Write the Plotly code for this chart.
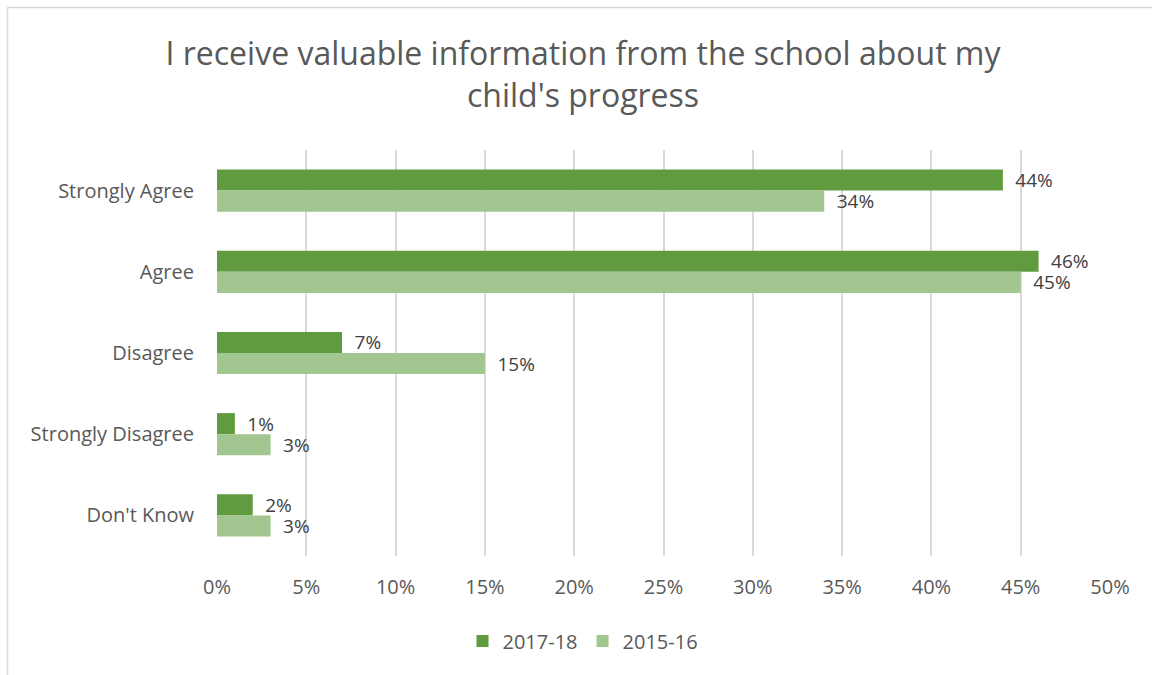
import plotly.graph_objects as go

categories = ['Strongly Agree', 'Agree', 'Disagree', 'Strongly Disagree', "Don't Know"]
values_2017 = [44, 46, 7, 1, 2]
values_2015 = [34, 45, 15, 3, 3]
series_names = ['2017-18', '2015-16']
colors = ['#609B3F', '#A2C68F']

font_family = 'Open Sans, Lato, sans-serif'

W, H = 1152, 675
L, R, T, B = 217, 42, 150, 119
pw, ph = W - L - R, H - T - B

fig = go.Figure()

for name, vals, col in zip(series_names, [values_2017, values_2015], colors):
    fig.add_trace(go.Bar(
        y=categories, x=vals,
        orientation='h',
        name=name,
        marker=dict(color=col, line=dict(width=0)),
        text=['\u2002' + f'{v}%' for v in vals],
        textposition='outside',
        constraintext='none',
        cliponaxis=False,
        textfont=dict(size=19, color='#404040', family=font_family),
    ))

# chart frame (only left and top edges show in the reference)
frame = dict(type='line', xref='paper', yref='paper',
             line=dict(color='#D9D9D9', width=1.5))
x_left = (7.5 - L) / pw
y_top = (H - B - 7.5) / ph

fig.update_layout(
    width=W, height=H,
    margin=dict(l=L, r=R, t=T, b=B),
    paper_bgcolor='white', plot_bgcolor='white',
    barmode='group', bargap=0.48, bargroupgap=0,
    font=dict(family=font_family, color='#595959', size=20),
    title=dict(
        text="I receive valuable information from the school about my<br>child's progress",
        x=583 / W, xref='container', xanchor='center',
        y=1 - 65 / H, yref='container', yanchor='middle',
        font=dict(size=32, color='#595959', family=font_family),
    ),
    xaxis=dict(
        range=[0, 50], dtick=5, ticksuffix='%',
        showgrid=True, gridcolor='#D9D9D9', gridwidth=2,
        zeroline=False, showline=False, ticks='',
        ticklabelstandoff=17,
        tickfont=dict(size=20, color='#595959'),
    ),
    yaxis=dict(
        categoryorder='array', categoryarray=categories,
        autorange='reversed',
        showgrid=False, zeroline=False, showline=False, ticks='',
        ticklabelstandoff=22,
        tickfont=dict(size=20, color='#595959'),
    ),
    legend=dict(
        orientation='h', x=(583 - L) / pw, xanchor='center',
        y=(H - B - 641) / ph, yanchor='middle',
        font=dict(size=20, color='#595959'),
        itemwidth=30, traceorder='normal',
    ),
    shapes=[
        dict(frame, x0=x_left, x1=(W - L) / pw, y0=y_top, y1=y_top),
        dict(frame, x0=x_left, x1=x_left, y0=y_top, y1=-B / ph),
    ],
)

# drop the default 8px page margin so the figure sits at the window origin
fig.write_html('out.html',
               config={'displayModeBar': False},
               post_script="document.body.style.margin='0';"
                           "document.body.style.overflow='hidden';")
